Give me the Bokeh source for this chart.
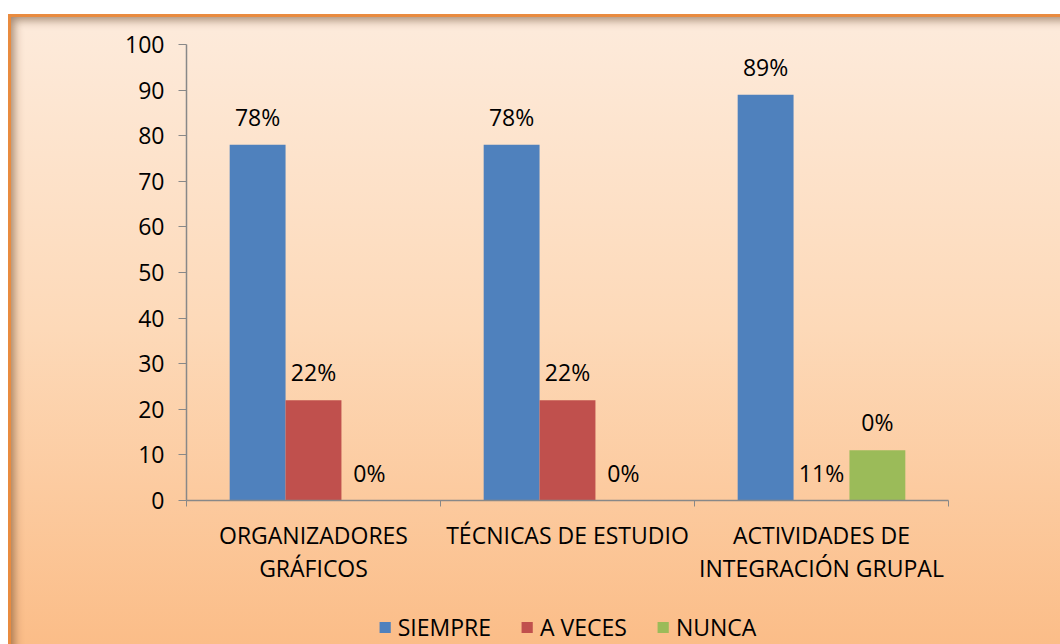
from bokeh.plotting import figure
from bokeh.layouts import column
from bokeh.models import Range1d, FixedTicker, ColumnDataSource, Legend, LegendItem
from bokeh.transform import dodge
from bokeh.core.properties import value
from bokeh.embed import file_html
from bokeh.resources import INLINE

categories = ["ORGANIZADORES\nGRÁFICOS", "TÉCNICAS DE ESTUDIO", "ACTIVIDADES DE\nINTEGRACIÓN GRUPAL"]
series_names = ["SIEMPRE", "A VECES", "NUNCA"]
siempre = [78, 78, 89]
a_veces = [22, 22, 0]
nunca = [0, 0, 11]
siempre_labels = ["78%", "78%", "89%"]
a_veces_labels = ["22%", "22%", "11%"]
nunca_labels = ["0%", "0%", "0%"]
y_ticks = [0, 10, 20, 30, 40, 50, 60, 70, 80, 90, 100]

FONT = "Open Sans"
FS = "23px"
colors = ["#4F81BD", "#C0504D", "#9BBB59"]

centers = [i + 0.5 for i in range(len(categories))]
bounds = [float(i) for i in range(len(categories) + 1)]

data = dict(
    x=centers,
    siempre=siempre, a_veces=a_veces, nunca=nunca,
    siempre_labels=siempre_labels, a_veces_labels=a_veces_labels, nunca_labels=nunca_labels,
)
src = ColumnDataSource(data)

p = figure(width=1052, height=596,
           x_range=Range1d(0, len(categories)), y_range=Range1d(0, 100),
           output_backend="svg", toolbar_location=None,
           min_border_left=178, min_border_right=112,
           min_border_top=30, min_border_bottom=110,
           background_fill_color=None, border_fill_color=None,
           outline_line_color=None)

p.xgrid.visible = False
p.ygrid.visible = False

offsets = [-0.22, 0.0, 0.22]
fields = ["siempre", "a_veces", "nunca"]
for f, off, c in zip(fields, offsets, colors):
    p.vbar(x=dodge("x", off, range=p.x_range), top=f, width=0.22, bottom=0,
           source=src, fill_color=c, line_color=None)
    p.text(x=dodge("x", off, range=p.x_range), y=f, text=f + "_labels", source=src,
           text_align="center", text_baseline="middle", y_offset=-28,
           text_font=value(FONT), text_font_size=FS, text_color="#000000")

# axes
xa = p.xaxis[0]
xa.ticker = FixedTicker(ticks=centers, minor_ticks=bounds)
xa.major_label_overrides = {c: lab for c, lab in zip(centers, categories)}
xa.major_tick_line_color = None
xa.minor_tick_in = 0
xa.minor_tick_out = 6
xa.minor_tick_line_color = "#888888"
xa.axis_line_color = "#888888"
xa.axis_line_width = 1.5
xa.major_label_text_font = FONT
xa.major_label_text_font_size = FS
xa.major_label_text_color = "#000000"
xa.major_label_text_line_height = 1.04
xa.major_label_standoff = 12

ya = p.yaxis[0]
ya.ticker = FixedTicker(ticks=y_ticks, minor_ticks=[])
ya.major_tick_in = 0
ya.major_tick_out = 8
ya.major_tick_line_color = "#888888"
ya.axis_line_color = "#888888"
ya.axis_line_width = 1.5
ya.major_label_text_font = FONT
ya.major_label_text_font_size = FS
ya.major_label_text_color = "#000000"
ya.major_label_standoff = 14

# legend strip below the chart (its bars sit outside the strip's visible ranges)
pl = figure(width=1052, height=34, x_range=Range1d(10, 11), y_range=Range1d(500, 501),
            output_backend="svg", toolbar_location=None,
            x_axis_location=None, y_axis_location=None,
            min_border=0, background_fill_color=None, border_fill_color=None,
            outline_line_color=None)
pl.grid.visible = False
leg_src = ColumnDataSource(data)
leg_renderers = [pl.vbar(x="x", top=f, width=0.22, source=leg_src, fill_color=c, line_color=None)
                 for f, c in zip(fields, colors)]
legend = Legend(items=[LegendItem(label=n, renderers=[r]) for n, r in zip(series_names, leg_renderers)],
                orientation="horizontal", location="center",
                glyph_width=14, glyph_height=14, label_standoff=6, spacing=29,
                padding=0, margin=0, border_line_color=None, background_fill_alpha=0,
                label_text_font=FONT, label_text_font_size=FS, label_text_color="#000000")
pl.add_layout(legend)

layout = column(p, pl, spacing=0)
layout.margin = (14, 0, 0, 8)
layout.styles = {
    "background": "linear-gradient(to bottom, #FDEBDC 0%, #FDD9B8 50%, #FBBD88 100%)",
    "box-shadow": "inset 3px 3px 0 0 #E98B3F, inset 9px 9px 10px -3px rgba(90,55,25,0.55)",
}

open("out.html", "w").write(file_html(layout, INLINE))
